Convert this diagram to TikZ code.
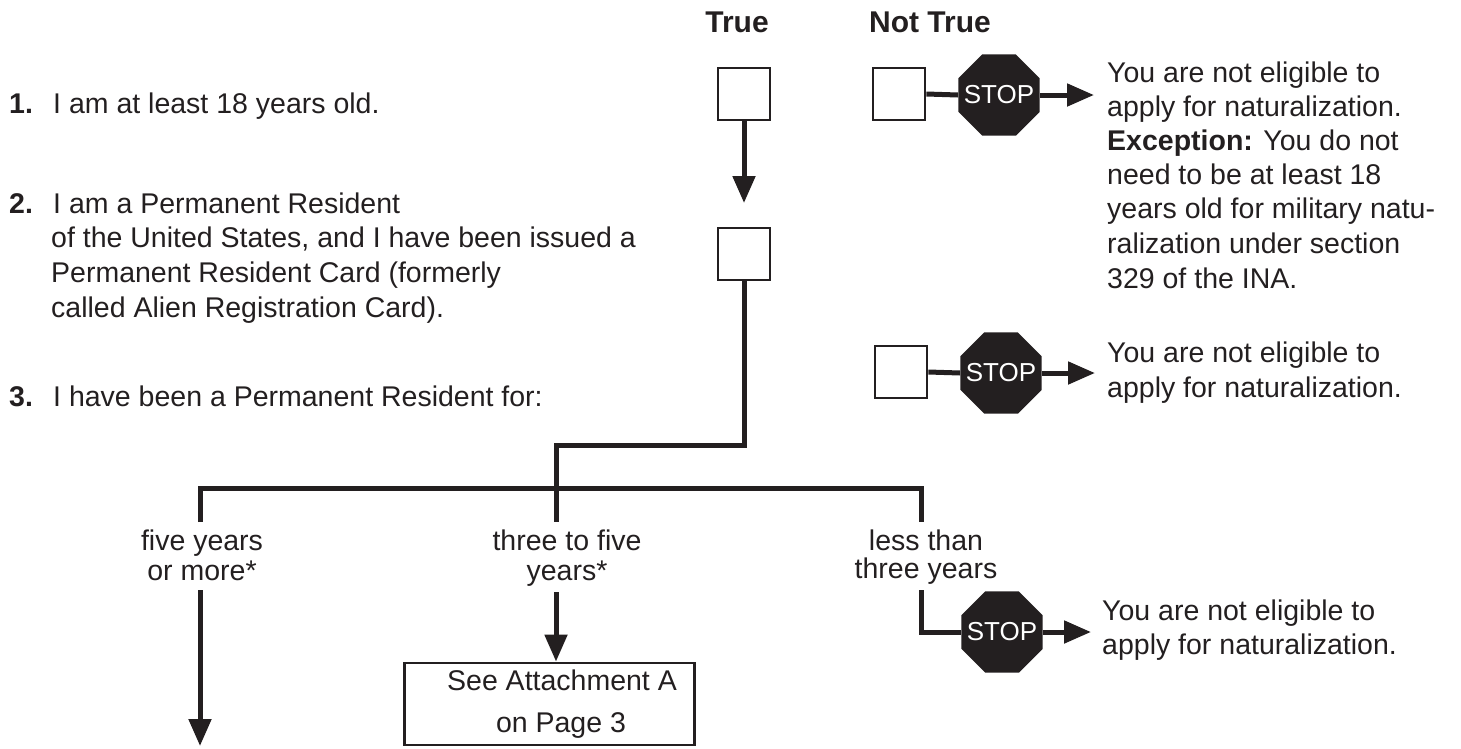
\documentclass[tikz,border=0pt]{standalone}
\usepackage{fontspec}
\setmainfont{Liberation Sans}
\usetikzlibrary{arrows.meta,shapes.geometric}
\definecolor{ink}{HTML}{231F20}
\begin{document}
\begin{tikzpicture}[x=1pt,y=-1pt,
  txt/.style={inner sep=0pt, text=ink, font=\fontsize{28.5}{34.5}\selectfont},
  hdr/.style={inner sep=0pt, text=ink, font=\fontsize{30}{36}\selectfont\bfseries},
  chk/.style={draw=ink, line width=2.8pt, minimum size=52pt, inner sep=0pt, fill=white},
  stopsign/.style={shape=regular polygon, regular polygon sides=8, minimum size=88pt,
    fill=ink, inner sep=0pt,
    label={[inner sep=0pt, text=white, font=\fontsize{26}{26}\selectfont]center:STOP}},
  conn/.style={draw=ink, line width=5pt},
  arr/.style={conn, -{Triangle[length=27pt,width=22pt]}},
]
\useasboundingbox (0,0) rectangle (1461,748);

% headers
\node[hdr, anchor=base] (hT) at (737,32) {True};
\node[hdr, anchor=base] (hN) at (930,32) {Not True};

% left statements
\node[txt, anchor=base west] (n1) at (9,113) {\textbf{1.}};
\node[txt, anchor=base west] (q1) at (53,113) {I am at least 18 years old.};
\node[txt, anchor=base west] (n2) at (9,213) {\textbf{2.}};
\node[txt, anchor=base west] (q2a) at (53,213) {I am a Permanent Resident};
\node[txt, anchor=base west] (q2b) at (51,247) {of the United States, and I have been issued a};
\node[txt, anchor=base west] (q2c) at (51,282) {Permanent Resident Card (formerly};
\node[txt, anchor=base west] (q2d) at (51,317) {called Alien Registration Card).};
\node[txt, anchor=base west] (n3) at (9,406) {\textbf{3.}};
\node[txt, anchor=base west] (q3) at (53,406) {I have been a Permanent Resident for:};

% check boxes
\node[chk] (t1) at (744,94) {};
\node[chk] (t2) at (744,254) {};
\node[chk] (f1) at (899,94) {};
\node[chk] (f2) at (901,372) {};

% stop signs
\node[stopsign] (s1) at (999,95) {};
\node[stopsign] (s2) at (1001,373) {};
\node[stopsign] (s3) at (1002,632) {};

% coordinates
\coordinate (a1) at (744,203);
\coordinate (e1) at (1094,95);
\coordinate (e2) at (1095,373);
\coordinate (e3) at (1091,632);
\coordinate (j1) at (744,445);
\coordinate (j2) at (556,445);
\coordinate (m1) at (556,522);
\coordinate (b1) at (200,522);
\coordinate (b2) at (200,488);
\coordinate (b3) at (921,488);
\coordinate (b4) at (921,522);
\coordinate (p1) at (200,590);
\coordinate (p2) at (200,746);
\coordinate (g1) at (556,592);
\coordinate (h1) at (921,590);
\coordinate (h2) at (921,632);

% connectors
\draw[arr] (t1.south) -- (a1);
\draw[conn] (f1.east) -- (s1.west);
\draw[arr] (s1.east) -- (e1);
\draw[conn] (f2.east) -- (s2.west);
\draw[arr] (s2.east) -- (e2);
\draw[conn] (t2.south) -- (j1) -- (j2) -- (m1);
\draw[conn] (b1) -- (b2) -- (b3) -- (b4);

% branch labels
\node[txt, anchor=base] (l1a) at (202,550) {five years};
\node[txt, anchor=base] (l1b) at (202,580) {or more*};
\node[txt, anchor=base] (l2a) at (567,550) {three to five};
\node[txt, anchor=base] (l2b) at (567,580) {years*};
\node[txt, anchor=base] (l3a) at (926,550) {less than};
\node[txt, anchor=base] (l3b) at (926,578) {three years};

% attachment box
\node[draw=ink, line width=2.8pt, minimum width=290pt, minimum height=82pt, inner sep=0pt] (att) at (549.5,704) {};
\node[txt, anchor=base] (att1) at (562,690) {See Attachment A};
\node[txt, anchor=base] (att2) at (561,732) {on Page 3};

\draw[arr] (p1) -- (p2);
\draw[arr] (g1) -- (att.north -| g1);
\draw[conn] (h1) -- (h2) -- (s3.west);
\draw[arr] (s3.east) -- (e3);

% right texts
\node[txt, anchor=base west] (r1a) at (1107,82) {You are not eligible to};
\node[txt, anchor=base west] (r1b) at (1107,116) {apply for naturalization.};
\node[txt, anchor=base west] (r1c) at (1107,150) {\textbf{Exception:} You do not};
\node[txt, anchor=base west] (r1d) at (1107,184) {need to be at least 18};
\node[txt, anchor=base west] (r1e) at (1107,218) {years old for military natu-};
\node[txt, anchor=base west] (r1f) at (1107,253) {ralization under section};
\node[txt, anchor=base west] (r1g) at (1107,288) {329 of the INA.};
\node[txt, anchor=base west] (r2a) at (1107,362) {You are not eligible to};
\node[txt, anchor=base west] (r2b) at (1107,397) {apply for naturalization.};
\node[txt, anchor=base west] (r3a) at (1102,620) {You are not eligible to};
\node[txt, anchor=base west] (r3b) at (1102,654) {apply for naturalization.};
\end{tikzpicture}
\end{document}
